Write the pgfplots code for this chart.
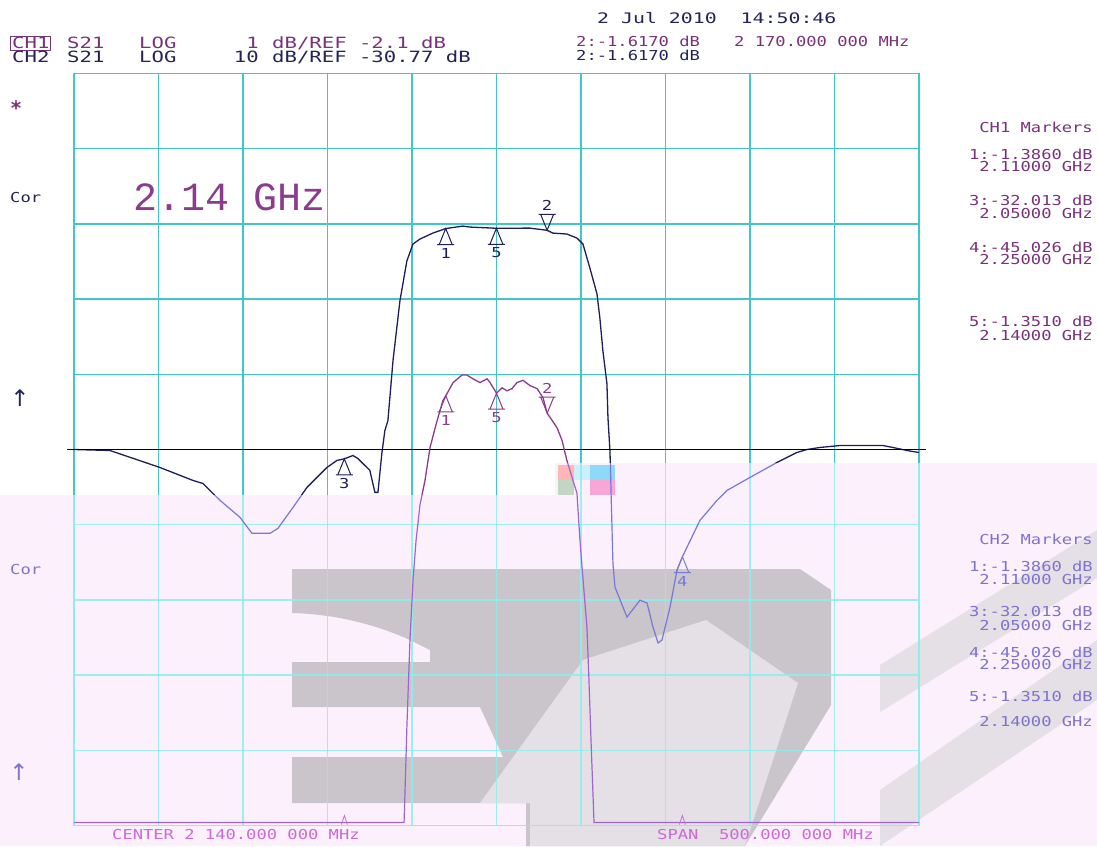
\documentclass[border=0pt]{standalone}
\usepackage{pgfplots}
\pgfplotsset{compat=1.18}
\usepackage{pgfplotstable}
\usepackage{fontspec}
\newfontfamily\lcdfam[FakeStretch=1.25]{DejaVu Sans Mono}
\newfontfamily\hdrfam[FakeStretch=1.33]{DejaVu Sans Mono}
\newfontfamily\datefam[FakeStretch=1.37]{DejaVu Sans Mono}
\newfontfamily\bigfam{Liberation Mono}
\newfontfamily\symfam{DejaVu Sans Mono}
\newfontfamily\arrfam{DejaVu Sans}
\newcommand\lcdf{\lcdfam\fontsize{13.7pt}{14pt}\selectfont}
\newcommand\hdrf{\hdrfam\fontsize{15.5pt}{16pt}\selectfont}
\newcommand\datef{\datefam\fontsize{14.5pt}{15pt}\selectfont}
\newcommand\bigf{\bigfam\fontsize{40pt}{42pt}\selectfont}

\definecolor{gridU}{RGB}{64,200,200}
\definecolor{gridL}{RGB}{140,238,238}
\definecolor{navy}{RGB}{30,30,90}
\definecolor{navyL}{RGB}{120,120,215}
\definecolor{mag}{RGB}{140,60,140}
\definecolor{magL}{RGB}{160,100,205}
\definecolor{pinkbg}{RGB}{252,240,252}
\definecolor{wmD}{RGB}{201,197,202}
\definecolor{wmL}{RGB}{228,224,230}
\definecolor{txtP}{RGB}{120,50,120}
\definecolor{txtN}{RGB}{35,35,85}
\definecolor{txtL}{RGB}{125,115,205}
\definecolor{txtPk}{RGB}{205,105,215}

\pgfdeclareplotmark{mkup}{%
  \pgfpathmoveto{\pgfpointorigin}%
  \pgfpathlineto{\pgfpoint{-6.5pt}{-16pt}}%
  \pgfpathlineto{\pgfpoint{6.5pt}{-16pt}}%
  \pgfpathclose
  \pgfpathmoveto{\pgfpoint{-8.5pt}{-16pt}}%
  \pgfpathlineto{\pgfpoint{8.5pt}{-16pt}}%
  \pgfusepathqstroke}
\pgfdeclareplotmark{mkdn}{%
  \pgfpathmoveto{\pgfpointorigin}%
  \pgfpathlineto{\pgfpoint{-6.5pt}{16pt}}%
  \pgfpathlineto{\pgfpoint{6.5pt}{16pt}}%
  \pgfpathclose
  \pgfpathmoveto{\pgfpoint{-8.5pt}{16pt}}%
  \pgfpathlineto{\pgfpoint{8.5pt}{16pt}}%
  \pgfusepathqstroke}
\pgfdeclareplotmark{caret}{%
  \pgfpathmoveto{\pgfpoint{-3pt}{1pt}}%
  \pgfpathlineto{\pgfpoint{0pt}{10pt}}%
  \pgfpathlineto{\pgfpoint{3pt}{1pt}}%
  \pgfusepathqstroke}

% CH2 trace: S21, 10 dB/div, REF -30.77 dB (frequency in GHz)
\pgfplotstableread{
f db
1.8900 -30.77
1.9113 -30.90
1.9409 -33.16
1.9604 -34.88
1.9663 -35.28
1.9764 -37.53
1.9882 -39.79
1.9953 -41.91
2.0060 -41.91
2.0107 -41.25
2.0196 -38.46
2.0279 -35.81
2.0397 -33.16
2.0456 -32.23
2.0500 -32.01
2.0551 -31.57
2.0580 -31.96
2.0610 -32.63
2.0651 -33.55
2.0681 -36.47
2.0699 -36.47
2.0722 -31.30
2.0740 -28.25
2.0758 -26.92
2.0788 -18.97
2.0829 -11.01
2.0870 -5.70
2.0906 -3.45
2.0947 -2.79
2.1024 -1.99
2.1100 -1.39
2.1202 -1.06
2.1243 -1.19
2.1400 -1.35
2.1598 -1.33
2.1700 -1.62
2.1734 -1.99
2.1817 -2.12
2.1876 -2.65
2.1912 -3.45
2.1953 -6.63
2.1995 -10.08
2.2012 -13.26
2.2030 -17.64
2.2054 -22.02
2.2060 -26.53
2.2072 -31.04
2.2078 -36.61
2.2089 -45.89
2.2101 -49.07
2.2172 -53.05
2.2249 -50.80
2.2291 -51.19
2.2326 -54.38
2.2356 -56.50
2.2379 -56.10
2.2427 -51.72
2.2468 -46.82
2.2500 -45.03
2.2527 -43.77
2.2604 -40.19
2.2705 -37.53
2.2764 -36.21
2.2900 -34.48
2.3060 -32.49
2.3178 -31.17
2.3237 -30.77
2.3314 -30.50
2.3433 -30.24
2.3687 -30.24
2.3746 -30.50
2.3829 -30.90
2.3900 -31.17
}\chtwo

% CH1 trace: S21, 1 dB/div, REF -2.1 dB (clipped at bottom of screen)
\pgfplotstableread{
f db
1.8900 -7.06
2.0853 -7.06
2.0859 -6.62
2.0870 -5.77
2.0888 -4.63
2.0906 -3.84
2.0924 -3.31
2.0947 -2.84
2.0977 -2.51
2.1007 -2.07
2.1048 -1.72
2.1083 -1.45
2.1100 -1.386
2.1143 -1.21
2.1196 -1.11
2.1225 -1.11
2.1261 -1.16
2.1302 -1.21
2.1344 -1.16
2.1362 -1.21
2.1400 -1.351
2.1433 -1.28
2.1462 -1.32
2.1492 -1.29
2.1521 -1.21
2.1557 -1.18
2.1598 -1.25
2.1640 -1.29
2.1675 -1.41
2.1700 -1.617
2.1758 -1.81
2.1788 -1.98
2.1817 -2.25
2.1847 -2.47
2.1876 -2.68
2.1894 -3.31
2.1906 -3.66
2.1935 -4.46
2.1947 -5.16
2.1959 -5.95
2.1977 -7.06
2.3900 -7.06
}\chone

\pgfplotsset{
  base/.style={at={(74pt,-825.5pt)}, anchor=south west, width=845pt, height=752pt,
    scale only axis, xmin=1.89, xmax=2.39, clip=false},
  grd/.style={base, ymin=-80.77, ymax=19.23,
    xtick={1.89,1.94,1.99,2.04,2.09,2.14,2.19,2.24,2.29,2.34,2.39},
    ytick={-80.77,-70.77,-60.77,-50.77,-40.77,-30.77,-20.77,-10.77,-0.77,9.23,19.23},
    xticklabels={}, yticklabels={}, major tick length=0pt, grid=major,
    grid style={#1, line width=1.5pt}, axis line style={#1, line width=1.5pt}},
  ch1ax/.style={base, ymin=-7.1, ymax=2.9, hide axis},
  mlab/.style={nodes near coords, point meta=explicit symbolic,
    nodes near coords style={anchor=#1, font=\lcdf, inner sep=0pt}},
}
\newcommand\tw[4]{\node[anchor=west, inner sep=0pt, text height=9.8pt, text depth=0pt, text=#3, font=\lcdf] at (#1pt,-#2pt) {#4};}
\newcommand\te[4]{\node[anchor=east, inner sep=0pt, text height=9.8pt, text depth=0pt, text=#3, font=\lcdf] at (#1pt,-#2pt) {#4};}
\newcommand\hw[4]{\node[anchor=west, inner sep=0pt, text height=11.2pt, text depth=0pt, text=#3, font=\hdrf] at (#1pt,-#2pt) {#4};}
\newcommand\he[4]{\node[anchor=east, inner sep=0pt, text height=11.2pt, text depth=0pt, text=#3, font=\hdrf] at (#1pt,-#2pt) {#4};}

\begin{document}
\begin{tikzpicture}
\useasboundingbox[fill=white] (0,0) rectangle (1097pt,-846pt);

% ---------- upper (normal) layer ----------
\begin{axis}[grd=gridU]
  \addplot[navy, line width=1.3pt] table[x=f, y=db] {\chtwo};
  \addplot[only marks, mark=mkup, navy, mark options={line width=1pt}, mlab=north,
    nodes near coords style={yshift=-19pt, text=navy}]
    coordinates {(2.05,-32.013)[3] (2.11,-1.386)[1] (2.14,-1.351)[5] (2.25,-45.026)[4]};
  \addplot[only marks, mark=mkdn, navy, mark options={line width=1pt}, mlab=south,
    nodes near coords style={yshift=19pt, text=navy}]
    coordinates {(2.17,-1.617)[2]};
  \draw[black, line width=1.2pt] (rel axis cs:-0.008,0.5) -- (rel axis cs:1.008,0.5);
  \draw[black, line width=0.8pt] (rel axis cs:-0.011,0.5) ++(0,-3pt) -- ++(0,6pt) -- ++(6pt,-3pt) -- cycle;
  \draw[black, line width=0.8pt] (rel axis cs:1.011,0.5) ++(0,-3pt) -- ++(0,6pt) -- ++(-6pt,-3pt) -- cycle;
\end{axis}
\begin{axis}[ch1ax]
  \addplot[mag, line width=1.3pt] table[x=f, y=db] {\chone};
  \addplot[only marks, mark=mkup, mag, mark options={line width=1pt}, mlab=north,
    nodes near coords style={yshift=-19pt, text=mag}]
    coordinates {(2.11,-1.386)[1] (2.14,-1.351)[5]};
  \addplot[only marks, mark=mkdn, mag, mark options={line width=1pt}, mlab=south,
    nodes near coords style={yshift=19pt, text=mag}]
    coordinates {(2.17,-1.617)[2]};
\end{axis}

% ---------- translucent overlay region ----------
\fill[pinkbg] (0,-495pt) -- (555pt,-495pt) -- (555pt,-463pt) -- (1097pt,-463pt)
  -- (1097pt,-846pt) -- (0,-846pt) -- cycle;
% small colour glitch
\fill[red!30!pink!60] (558pt,-465pt) rectangle (574pt,-480pt);
\fill[cyan!20] (574pt,-465pt) rectangle (590pt,-480pt);
\fill[cyan!45] (590pt,-465pt) rectangle (615pt,-480pt);
\fill[magenta!35] (590pt,-480pt) rectangle (615pt,-495pt);
\fill[green!20!gray!40] (558pt,-480pt) rectangle (574pt,-495pt);
% watermark
\fill[wmD] (292pt,-569pt) -- (800pt,-569pt) -- (831pt,-590pt) -- (831pt,-705pt)
  -- (745pt,-846pt) -- (526pt,-846pt) -- (526pt,-803pt) -- (292pt,-803pt)
  -- (292pt,-757pt) -- (503pt,-757pt) -- (480pt,-707pt) -- (292pt,-707pt)
  -- (292pt,-662pt) -- (430pt,-662pt) -- (430pt,-650pt) -- (410pt,-640pt)
  .. controls (370pt,-622pt) and (330pt,-614pt) .. (292pt,-613pt) -- cycle;
\fill[wmL] (480pt,-803pt) -- (583pt,-660pt) -- (706pt,-620pt) -- (798pt,-683pt)
  -- (745pt,-846pt) -- (530pt,-846pt) -- (530pt,-803pt) -- cycle;
\fill[wmL] (880pt,-665pt) -- (1097pt,-530pt) -- (1097pt,-578pt) -- (880pt,-712pt) -- cycle;
\fill[wmL] (880pt,-790pt) -- (1097pt,-640pt) -- (1097pt,-700pt) -- (880pt,-846pt) -- cycle;

\begin{scope}
\clip (0,-495pt) -- (555pt,-495pt) -- (555pt,-463pt) -- (1097pt,-463pt)
  -- (1097pt,-846pt) -- (0,-846pt) -- cycle;
\begin{axis}[grd={gridL, opacity=0.85}]
  \addplot[navyL, line width=1.2pt] table[x=f, y=db] {\chtwo};
  \addplot[only marks, mark=mkup, navyL, mark options={line width=1pt}, mlab=north,
    nodes near coords style={yshift=-19pt, text=navyL}]
    coordinates {(2.25,-45.026)[4]};
\end{axis}
\begin{axis}[ch1ax]
  \addplot[magL, line width=1.2pt] table[x=f, y=db] {\chone};
  \addplot[only marks, mark=caret, txtPk, mark options={line width=0.8pt}]
    coordinates {(2.05,-7.1) (2.25,-7.1)};
\end{axis}
\end{scope}

% ---------- texts ----------
\node[anchor=west, inner sep=0pt, text height=10.5pt, text depth=0pt, text=txtN, font=\datef] at (597pt,-18pt) {2 Jul 2010~~14:50:46};
\draw[txtP, line width=1pt] (10pt,-36pt) rectangle (50pt,-50pt);
\hw{12}{43}{txtP}{CH1}
\hw{67}{43}{txtP}{S21}
\hw{139}{43}{txtP}{LOG}
\he{259}{43}{txtP}{1}
\hw{272}{43}{txtP}{dB/REF -2.1 dB}
\hw{12}{57}{txtN}{CH2}
\hw{67}{57}{txtN}{S21}
\hw{139}{57}{txtN}{LOG}
\he{259}{57}{txtN}{10}
\hw{272}{57}{txtN}{dB/REF -30.77 dB}
\tw{576}{42}{txtP}{2:-1.6170 dB}
\tw{734}{42}{txtP}{2 170.000 000 MHz}
\tw{576}{56}{txtN}{2:-1.6170 dB}

\node[anchor=north west, inner sep=0pt, text=txtP, font=\symfam\bfseries\fontsize{20pt}{20pt}\selectfont] at (10pt,-100pt) {*};
\tw{10}{198}{txtN}{Cor}
\node[anchor=center, inner sep=0pt, scale=1.9, text=txtN, font=\arrfam\fontsize{12pt}{12pt}\selectfont] at (20pt,-398pt) {↑};
\tw{10}{570}{txtL}{Cor}
\node[anchor=center, inner sep=0pt, scale=1.9, text=txtL, font=\arrfam\fontsize{12pt}{12pt}\selectfont] at (19pt,-772pt) {↑};

\node[anchor=mid west, inner sep=0pt, text=mag, font=\bigf] at (133pt,-208pt) {2.14 GHz};

\te{1093}{128}{txtP}{CH1 Markers}
\te{1093}{155}{txtP}{1:-1.3860 dB}
\te{1093}{167}{txtP}{2.11000 GHz}
\te{1093}{201}{txtP}{3:-32.013 dB}
\te{1093}{214}{txtP}{2.05000 GHz}
\te{1093}{248}{txtP}{4:-45.026 dB}
\te{1093}{260}{txtP}{2.25000 GHz}
\te{1093}{322}{txtP}{5:-1.3510 dB}
\te{1093}{336}{txtP}{2.14000 GHz}

\te{1093}{540}{txtL}{CH2 Markers}
\te{1093}{567}{txtL}{1:-1.3860 dB}
\te{1093}{580}{txtL}{2.11000 GHz}
\te{1093}{612}{txtL}{3:-32.013 dB}
\te{1093}{626}{txtL}{2.05000 GHz}
\te{1093}{653}{txtL}{4:-45.026 dB}
\te{1093}{665}{txtL}{2.25000 GHz}
\te{1093}{697}{txtL}{5:-1.3510 dB}
\te{1093}{722}{txtL}{2.14000 GHz}

\tw{112}{835}{txtPk}{CENTER 2 140.000 000 MHz}
\tw{657}{835}{txtPk}{SPAN~~500.000 000 MHz}
\end{tikzpicture}
\end{document}
